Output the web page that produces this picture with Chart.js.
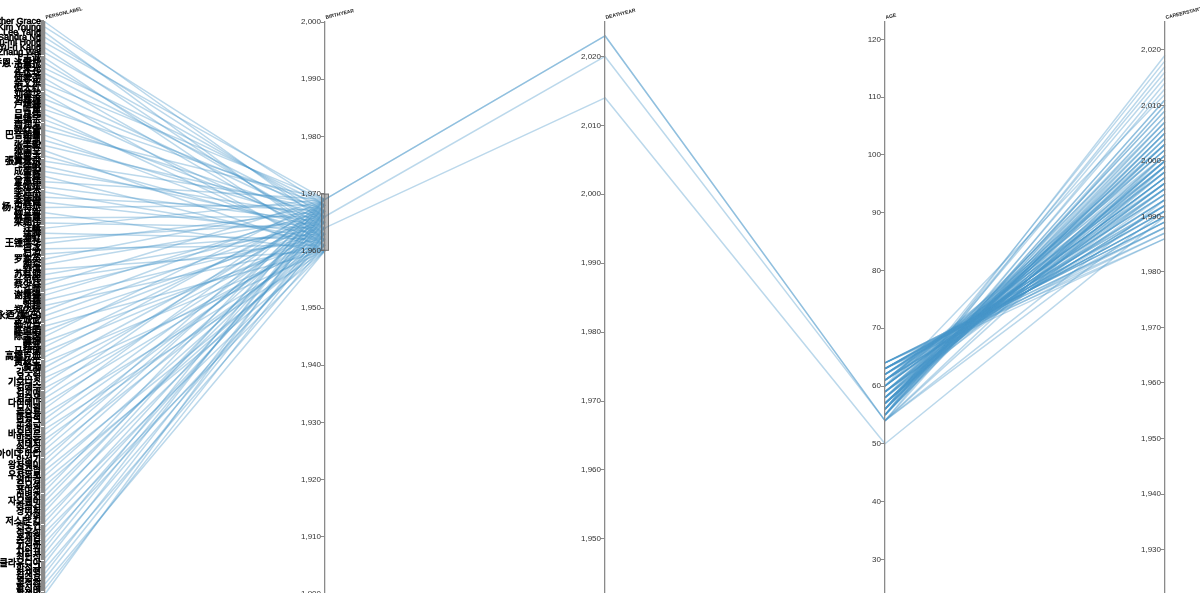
<!DOCTYPE html>
<html><head><meta charset="utf-8">
<script src="https://cdn.jsdelivr.net/npm/chart.js@4.4.1/dist/chart.umd.min.js"></script>
<style>
html,body{margin:0;padding:0;background:#fff;overflow:hidden;width:1200px;height:593px}
#wrap{position:relative;width:1200px;height:620px}
</style></head>
<body><div id="wrap"><canvas id="c"></canvas></div>
<script>
// ---- dimensions / axis titles ----
const dimensions = ['personLabel','birthYear','deathYear','age','careerStart'];
const axisTitles = ['PERSONLABEL','BIRTHYEAR','DEATHYEAR','AGE','CAREERSTART'];

const birthYearRange = [1900, 2000];
const deathYearRange = [1942, 2025];
const ageRange = [24, 123];
const careerStartRange = [1922, 2025];
const brushBirthYear = [1960, 1970];

// ---- data ----
const personLabel = [
 "Heather Grace","Kim Young","Lee Yang","Sandra Ng","Su-mi Hong","Yu-ri Kang","Zhang Wei","丁志诚","乔恩·洛雷托","于荣光",
 "任达华","何家劲","余文乐","倪大红","刘德华","刘嘉玲","卢靖姗","叶童","吕良伟","吴镇宇",
 "周润发","孙红雷","巴音朝鲁","康凯","张丰毅","张国立","张曼玉","張翼雲飛","徐帆","成奎安",
 "曹颖","曾志伟","朱媛媛","李连杰","李保田","李雪健","杨·巴特尔","杨立新","林青霞","梁朝伟",
 "汪峰","沈腾","潘虹","王锺瑶华","白冰","石凉","罗家英","胡军","舒淇","苏有朋",
 "范伟","蔡少芬","许晴","谢霆锋","赵薇","邓超","郑少秋","鄭永迺 (勤石)","金城武","钟汉良",
 "陈道明","陈宝国","陳坤","韩寒","马伊琍","高橋克典","黃秋生","黄渤","강수연","고소영",
 "기오니스","김혜수","김희애","김승우","다이애나","도지원","류승룡","마동석","문성근","민해경",
 "바우터르","박중훈","서태지","송강호","아이다 마리","안성기","왕자웨이","용준형","우샤오보","원미경",
 "유오성","윤여정","이병헌","자오웨이","장동건","장미희","장혁","저스틴 킴","전도연","정우성",
 "조재현","주진모","지진희","차인표","최민식","클라우디아","한석규","한채영","허준호","홍석천",
 "황신혜","황정민"
];
const birthYear = [
 1965,1968,1962,1966,1969,1963,1967,1961,1964,1968,
 1966,1962,1969,1965,1960,1967,1963,1968,1961,1964,
 1966,1969,1962,1965,1967,1960,1963,1968,1964,1966,
 1961,1969,1965,1962,1967,1963,1968,1960,1966,1964,
 1969,1962,1965,1967,1961,1963,1968,1966,1960,1964,
 1962,1969,1965,1967,1963,1961,1968,1966,1964,1960,
 1965,1969,1962,1967,1963,1968,1961,1966,1964,1960,
 1967,1962,1969,1965,1963,1968,1961,1966,1964,1960,
 1965,1962,1969,1967,1963,1968,1966,1961,1964,1960,
 1962,1969,1965,1967,1963,1968,1961,1966,1964,1960,
 1965,1962,1969,1967,1963,1968,1961,1966,1964,1960,
 1963,1967
];
const deathYear = [
 null,null,null,null,null,null,null,null,null,null,
 2020,null,null,null,null,null,null,null,null,null,
 null,null,null,null,null,null,null,null,null,null,
 null,2023,null,null,null,null,null,null,null,null,
 null,null,null,null,null,null,null,null,null,2014,
 null,2023,null,null,null,null,null,null,null,null,
 null,null,null,null,null,null,null,null,null,null,
 null,null,null,null,null,null,null,null,null,null,
 null,null,null,null,null,null,null,null,null,null,
 null,null,null,null,null,null,null,null,null,null,
 null,null,null,null,null,null,null,null,null,null,
 null,null
];
const age = [
 59,56,62,57,55,61,57,63,60,55,
 54,62,54,59,64,56,61,56,63,60,
 58,55,61,59,57,63,61,56,60,57,
 63,54,58,62,57,60,55,64,58,59,
 55,61,59,56,63,61,56,58,64,50,
 62,54,59,57,60,63,56,57,60,64,
 59,54,62,57,61,55,62,58,60,63,
 57,62,55,58,61,56,63,58,59,64,
 59,61,55,57,61,55,58,63,60,64,
 62,54,59,56,61,56,63,58,60,63,
 59,62,55,57,60,56,63,57,60,64,
 61,57
];
const careerStart = [
 1995,2003,1989,2000,2008,1993,1998,1988,2012,2005,
 1991,1996,2001,1994,1987,2006,1999,2015,1990,1997,
 2002,2010,1992,1996,2004,1986,1995,2018,1999,2001,
 1990,1993,2007,1994,2000,1997,2011,1989,2003,1996,
 2013,1992,1998,2005,1991,2000,2009,1995,1988,1990,
 1994,1999,2002,2006,1997,1992,2016,2001,1996,1989,
 2000,2010,1991,2004,1998,2007,1993,1999,2003,1987,
 2005,1995,2019,1997,1993,2008,1990,2002,1999,1988,
 1996,1992,2011,2003,1998,2006,2000,1991,1997,1986,
 1994,2014,2001,2005,1996,2009,1992,1999,2002,1990,
 1998,1993,2017,2004,1995,2007,1991,2000,1997,1989,
 2001,2003
];

// ---- styling ----
const FONT = "'Liberation Sans','Noto Sans CJK KR','Noto Sans CJK SC',sans-serif";
const LINE_COLOR = 'rgba(70,150,200,0.37)';
const AXIS_COLOR = '#8a8a8a';
const TICK_LEN = 3, LABEL_PAD = 1;

function zeroWidth(scale){ scale.width = 0; }
// axes placed at an x value draw their labels on the axis line; move them left of the tick marks
function shiftLabels(scale){
  if (scale._pcWrapped) return;
  const orig = scale._computeLabelItems;
  if (typeof orig !== 'function') return;
  scale._computeLabelItems = function(ca){
    const items = orig.call(this, ca);
    items.forEach(it => { if (it.options && it.options.translation) it.options.translation[0] -= TICK_LEN + LABEL_PAD; });
    return items;
  };
  scale._pcWrapped = true;
}
function axisGrid(w){ return {display:true, drawOnChartArea:false, drawTicks:true, tickLength:TICK_LEN, color:AXIS_COLOR, tickWidth:w}; }
function numAxis(pos, range){
  return {
    type:'linear', axis:'y', position:{x:pos}, min:range[0], max:range[1], afterFit:zeroWidth, afterUpdate:shiftLabels,
    grid:axisGrid(1), border:{display:true, color:AXIS_COLOR, width:1.3},
    ticks:{stepSize:10, includeBounds:false, font:{family:FONT, size:8}, color:'#333', padding:LABEL_PAD}
  };
}

const pcLines = {
  id:'pcLines',
  beforeDraw(chart){
    const s = chart.scales, ctx = chart.ctx;
    const axes = [s.p, s.b, s.d, s.a, s.c];
    ctx.save();
    ctx.strokeStyle = LINE_COLOR; ctx.lineWidth = 1.5; ctx.lineJoin = 'round';
    for (let i = 0; i < personLabel.length; i++) {
      const vals = [i, birthYear[i], deathYear[i], age[i], careerStart[i]];
      ctx.beginPath();
      let pen = false;
      vals.forEach((v, k) => {
        if (v === null || v === undefined) { pen = false; return; }
        const x = s.x.getPixelForValue(k), y = axes[k].getPixelForValue(v);
        if (pen) ctx.lineTo(x, y); else { ctx.moveTo(x, y); pen = true; }
      });
      ctx.stroke();
    }
    ctx.restore();
  },
  afterDraw(chart){
    const s = chart.scales, ctx = chart.ctx, top = chart.chartArea.top;
    ctx.save();
    const bx = s.x.getPixelForValue(1);
    const y1 = s.b.getPixelForValue(brushBirthYear[1]), y2 = s.b.getPixelForValue(brushBirthYear[0]);
    ctx.fillStyle = 'rgba(120,120,120,0.5)';
    ctx.strokeStyle = 'rgba(90,90,90,0.7)';
    ctx.lineWidth = 1;
    ctx.fillRect(bx-4, y1, 8, y2-y1);
    ctx.strokeRect(bx-4+0.5, y1+0.5, 7, y2-y1-1);
    ctx.fillStyle = '#222';
    ctx.font = 'bold 5px ' + FONT;
    axisTitles.forEach((t, k) => {
      const x = s.x.getPixelForValue(k);
      ctx.save();
      ctx.translate(x + 1, top - 3);
      ctx.rotate(-0.24);
      ctx.fillText(t, 0, 0);
      ctx.restore();
    });
    ctx.restore();
  }
};

new Chart(document.getElementById('c'), {
  type:'line',
  data:{datasets:[]},
  options:{
    responsive:true, maintainAspectRatio:false, animation:false,
    layout:{padding:{left:45, right:35, top:22, bottom:26}},
    plugins:{legend:{display:false}, tooltip:{enabled:false}, title:{display:false}},
    scales:{
      x:{type:'linear', axis:'x', min:0, max:dimensions.length-1, display:false},
      p:{
        type:'category', axis:'y', labels:personLabel, position:{x:0}, min:0, max:personLabel.length-1, offset:false,
        afterFit:zeroWidth, afterUpdate:shiftLabels, grid:axisGrid(5), border:{display:true, color:AXIS_COLOR, width:1.3},
        ticks:{autoSkip:false, font:{family:FONT, size:9}, color:'#000', textStrokeColor:'#000', textStrokeWidth:0.6, padding:LABEL_PAD}
      },
      b:numAxis(1, birthYearRange),
      d:numAxis(2, deathYearRange),
      a:numAxis(3, ageRange),
      c:numAxis(4, careerStartRange)
    }
  },
  plugins:[pcLines]
});
</script>
</body></html>
